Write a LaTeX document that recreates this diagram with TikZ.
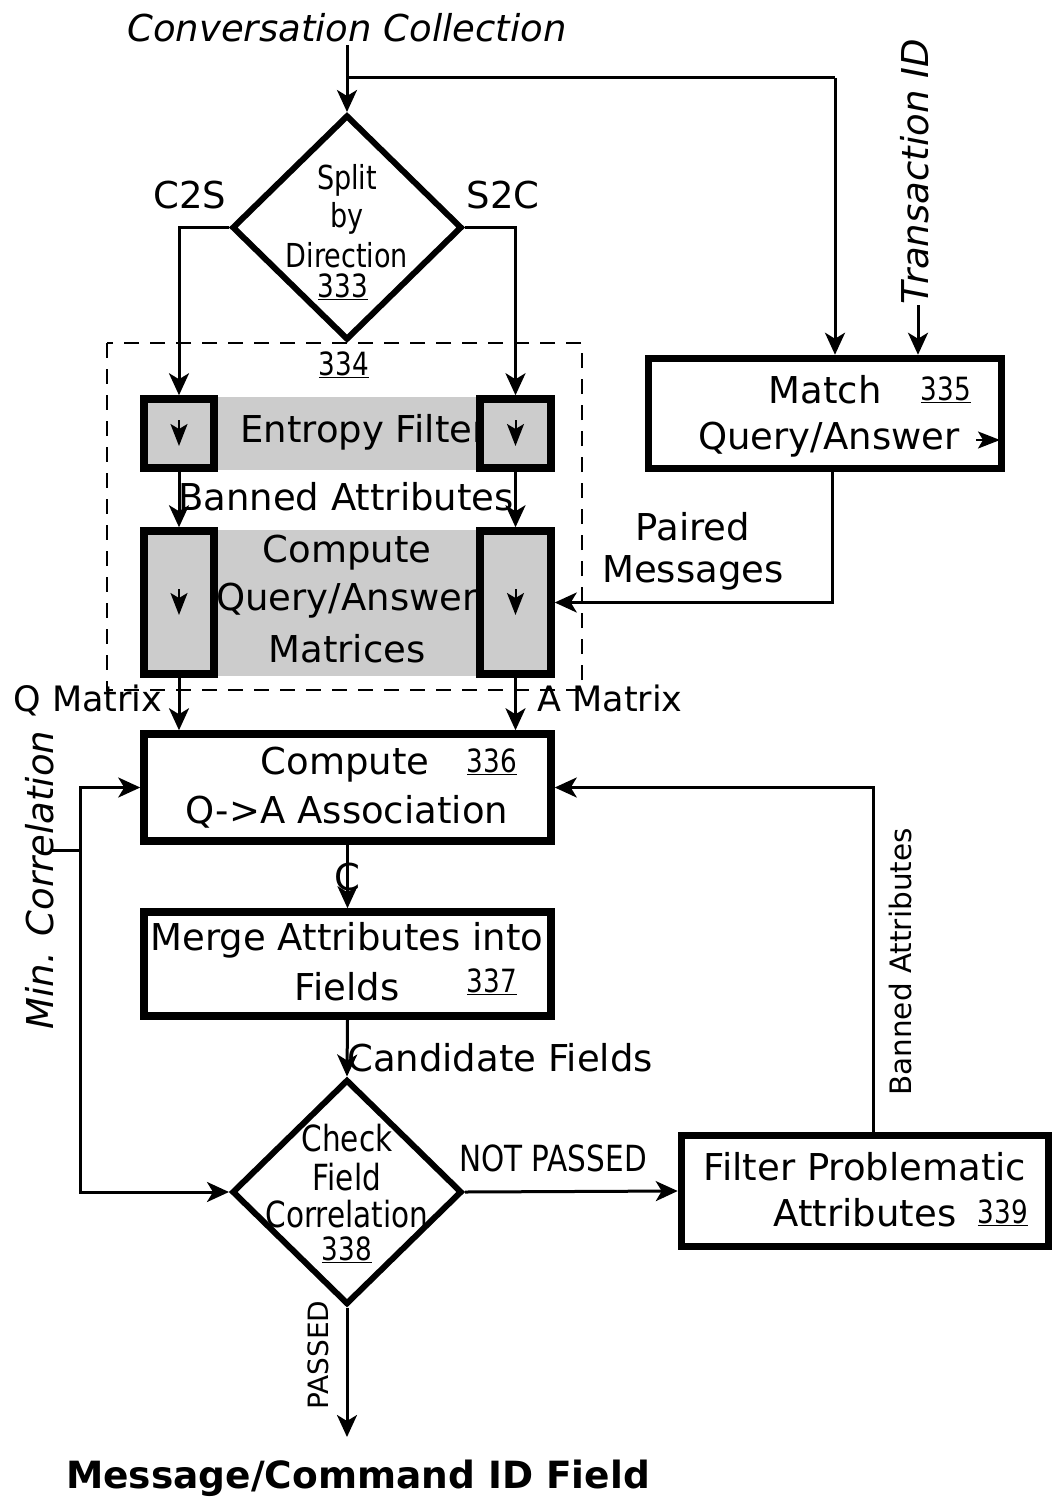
\documentclass[tikz,border=0pt]{standalone}
\usepackage{fontspec}
\setmainfont{DejaVu Sans}
\newfontfamily\condf[FakeStretch=0.82]{DejaVu Sans}
\usetikzlibrary{arrows.meta,shapes.geometric}
\newcommand{\fsz}[1]{\fontsize{#1}{#1}\selectfont}
\newcommand{\ul}[1]{\underline{#1}}
\begin{document}
\begin{tikzpicture}[x=1pt,y=-1pt,
  conn/.style={line width=3pt},
  arr/.style={line width=3pt,-{Stealth[length=22pt,width=20pt,inset=6pt]}},
  tip/.style={line width=2pt,-{Stealth[length=22pt,width=17pt,inset=5pt]}},
  box/.style={draw,line width=7.5pt,fill=white,inner sep=0pt},
  sbox/.style={draw,line width=7.5pt,fill=black!20,inner sep=0pt},
  dia/.style={draw,line width=6pt,shape=diamond,inner sep=0pt,fill=white},
  lbl/.style={inner sep=0pt,font=\fsz{37}},
  clbl/.style={inner sep=0pt,font=\condf\fsz{36}},
  nlbl/.style={inner sep=0pt,font=\condf\fsz{32}},
  band/.style={fill=black!20,draw=none}]
\useasboundingbox (0,0) rectangle (1052,1501);

% ---- shaded bands
\fill[band] (140,397) rectangle (555,470);
\fill[band] (140,530) rectangle (555,676);

% ---- dashed group
\draw[line width=2.5pt,dash pattern=on 15pt off 11pt] (107,343) rectangle (582,690);

% ---- main nodes
\node[dia,minimum width=230pt,minimum height=225pt] (d333) at (347,227.5) {};
\node[dia,minimum width=230pt,minimum height=225pt] (d338) at (347,1192) {};
\node[box,minimum width=353pt,minimum height=110pt] (b335) at (825,413.5) {};
\node[box,minimum width=407pt,minimum height=107pt] (b336) at (347.5,787.5) {};
\node[box,minimum width=407pt,minimum height=104pt] (b337) at (347.5,964) {};
\node[box,minimum width=367pt,minimum height=111pt] (b339) at (865,1191) {};

% ---- texts inside the bands (drawn before the side boxes)
\node[lbl] (tent) at (364,432) {Entropy Filter};
\node[lbl] (tcq1) at (347,553) {Compute};
\node[lbl] (tcq2) at (347,601) {Query/Answer};
\node[lbl] (tcq3) at (347,649) {Matrices};

% ---- side boxes of group 334
\node[sbox,minimum width=70pt,minimum height=69pt] (lf) at (179,433.5) {};
\node[sbox,minimum width=71pt,minimum height=69pt] (rf) at (515.5,433.5) {};
\node[sbox,minimum width=70pt,minimum height=143pt] (lm) at (179,602.5) {};
\node[sbox,minimum width=71pt,minimum height=143pt] (rm) at (515.5,602.5) {};

% small arrow tips inside side boxes
\coordinate (lfa) at (179,420); \coordinate (lfb) at (179,446);
\coordinate (rfa) at (515.5,420); \coordinate (rfb) at (515.5,446);
\coordinate (lma) at (179,589); \coordinate (lmb) at (179,615);
\coordinate (rma) at (515.5,589); \coordinate (rmb) at (515.5,615);
\draw[tip] (lfa) -- (lfb);
\draw[tip] (rfa) -- (rfb);
\draw[tip] (lma) -- (lmb);
\draw[tip] (rma) -- (rmb);

% ---- texts
\node[inner sep=0pt,font=\itshape\fsz{37}] (tcc) at (347,28) {Conversation Collection};
\node[lbl] (tc2s) at (190,195) {C2S};
\node[lbl] (ts2c) at (503,195) {S2C};
\node[clbl,font=\condf\fsz{33}] (ts1) at (347,180) {Split};
\node[clbl,font=\condf\fsz{33}] (ts2) at (347,218) {by};
\node[clbl,font=\condf\fsz{33}] (ts3) at (347,255) {Direction};
\node[nlbl] (ts4) at (343,287) {\ul{333}};
\node[nlbl] (t334) at (344,365) {\ul{334}};
\node[lbl] (tban) at (346,497) {Banned Attributes};
\node[lbl,font=\fsz{35}] (tqm) at (88,700) {Q Matrix};
\node[lbl,font=\fsz{35}] (tam) at (610,698) {A Matrix};
\node[lbl] (tm1) at (825,390) {Match};
\node[nlbl] (tm3) at (946,390) {\ul{335}};
\node[lbl] (tm2) at (829,440) {Query/Answer};
\node[lbl] (tp1) at (693,527) {Paired};
\node[lbl] (tp2) at (693,573) {Messages};
\node[lbl] (t336a) at (345,765) {Compute};
\node[nlbl] (t336n) at (492,762) {\ul{336}};
\node[lbl] (t336b) at (347,812) {Q->A Association};
\node[lbl] (t337a) at (347,940) {Merge Attributes into};
\node[lbl] (t337b) at (347,987) {Fields};
\node[nlbl] (t337n) at (492,982) {\ul{337}};
\node[lbl] (tcf) at (500,1058) {Candidate Fields};
\node[clbl] (tk1) at (347,1138) {Check};
\node[clbl] (tk2) at (347,1177) {Field};
\node[clbl] (tk3) at (347,1214) {Correlation};
\node[nlbl] (tk4) at (347,1250) {\ul{338}};
\node[clbl] (tnp) at (553,1158) {NOT PASSED};
\node[lbl] (tf1) at (865,1167) {Filter Problematic};
\node[lbl] (tf2) at (865,1213) {Attributes};
\node[nlbl] (tf3) at (1003,1213) {\ul{339}};
\node[inner sep=0pt,font=\fsz{29.5},rotate=90] (tbv) at (900,962) {Banned Attributes};
\node[inner sep=0pt,font=\itshape\fsz{37},rotate=90] (tmc) at (40,880) {Min. Correlation};
\node[inner sep=0pt,font=\itshape\fsz{37},rotate=90] (ttid) at (915,172) {Transaction ID};
\node[inner sep=0pt,font=\fsz{28},rotate=90] (tpas) at (318,1355) {PASSED};
\node[inner sep=0pt,font=\bfseries\fsz{37.5}] (tout) at (358,1478) {Message/Command ID Field};
\node[lbl] (tC) at (347,877) {C};

% ---- connectors
\coordinate (cin) at (347,45);
\coordinate (br) at (347,78);
\coordinate (mtop) at (835,78);
\draw[arr] (cin) -- (d333.north);
\draw[conn] (br) -- (mtop);
\draw[arr] (mtop) -- (mtop |- b335.north);
\draw[arr] (d333.west) -| (lf.north);
\draw[arr] (d333.east) -| (rf.north);
\draw[arr] (lf.south) -- (lm.north);
\draw[arr] (rf.south) -- (rm.north);
\draw[arr] (lm.south) -- (lm.south |- b336.north);
\draw[arr] (rm.south) -- (rm.south |- b336.north);
\draw[arr] (b336.south) -- (b337.north);
\draw[arr] (b337.south) -- (d338.north);
\draw[arr] (d338.east) -- (b339.west);
\draw[arr] ([xshift=8pt]b339.north) |- (b336.east);
\draw[arr] ([xshift=7pt]b335.south) |- (rm.east);
\coordinate (tidc) at (918,305);
\draw[arr] (tidc) -- (tidc |- b335.north);
\coordinate (qa1) at (976,440); \coordinate (qa2) at (1000,440);
\draw[tip] (qa1) -- (qa2);
\coordinate (mc) at (50,850);
\coordinate (mj) at (80,850);
\draw[conn] (mc) -- (mj);
\draw[arr] (mj) |- (b336.west);
\draw[arr] (mj) |- (d338.west);
\coordinate (pend) at (347,1437);
\draw[arr] (d338.south) -- (pend);
\end{tikzpicture}
\end{document}
